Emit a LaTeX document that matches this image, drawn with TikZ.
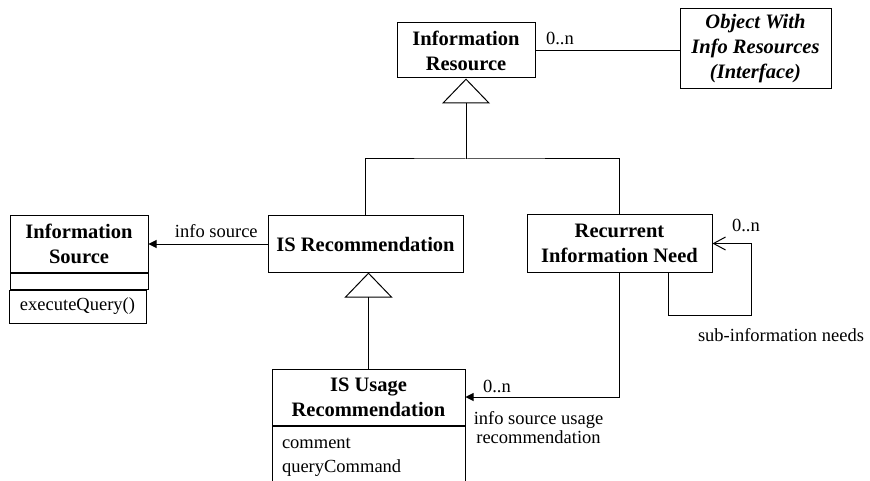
\documentclass[tikz,border=0pt]{standalone}
\usepackage{fontspec}
\setmainfont{Liberation Serif}
\usetikzlibrary{arrows.meta}

\begin{document}
\begin{tikzpicture}[x=1pt,y=-1pt,line width=1pt,
  cls/.style={draw,fill=white,inner sep=0pt,align=center,font=\fontsize{20.5}{25}\selectfont\bfseries},
  part/.style={draw,inner sep=0pt,align=center,font=\fontsize{18.5}{24}\selectfont},
  lbl/.style={inner sep=0pt,align=center,font=\fontsize{18.5}{19}\selectfont},
  gen/.style={-{Triangle[open,length=25pt,width=48pt]}},
  nav/.style={-{Triangle[length=8pt,width=8pt]}}]
  \useasboundingbox (0,0) rectangle (870,481);
  \clip (0,0) rectangle (870,481);
  % classes
  \node[cls,minimum width=138pt,minimum height=55pt] (infores) at (466,50.5) {Information\\Resource};
  \node[cls,font=\fontsize{20.5}{25}\selectfont\bfseries\itshape,minimum width=151pt,minimum height=80pt] (objwith) at (755.5,49) {Object With\\Info Resources\\(Interface)};
  \node[cls,minimum width=138pt,minimum height=56pt] (infosrc) at (79,244) {Information\\Source};
  \node[part,minimum width=138pt,minimum height=16pt,anchor=north] (srcattr) at (infosrc.south) {};
  \node[part,minimum width=137pt,minimum height=33pt,anchor=north] (srcops) at ([xshift=-1.5pt]srcattr.south) {executeQuery()};
  \node[cls,minimum width=195pt,minimum height=56pt] (isrec) at (365.5,244) {IS Recommendation};
  \node[cls,minimum width=185pt,minimum height=57pt] (rin) at (619.5,243.5) {Recurrent\\Information Need};
  \node[cls,minimum width=193pt,minimum height=56pt] (isusage) at (368.5,397) {IS Usage\\Recommendation};
  \node[part,minimum width=193pt,minimum height=80pt,anchor=north] (usageattr) at (isusage.south) {};
  \node[lbl,anchor=base west] (attcomment) at ([xshift=10pt,yshift=-23pt]isusage.south west) {comment};
  \node[lbl,anchor=base west] (attquery) at ([xshift=10pt,yshift=-47pt]isusage.south west) {queryCommand};
  % generalisations
  \coordinate (bar) at (466,159);
  \draw (isrec.north) |- (bar) -| (rin.north);
  \draw[gen] (bar) -- (infores.south);
  \draw[gen] (isusage.north) -- (isusage.north |- isrec.south);
  % associations
  \draw (infores.east) -- (objwith.west |- infores.east);
  \node[lbl,anchor=base west] (resmult) at ([xshift=10pt,yshift=6pt]infores.east) {0..n};
  \draw[nav] (isrec.west) -- (infosrc.east) node[lbl,above=6pt,pos=0.43] (srclbl) {info source};
  \draw[nav] (rin.south) |- (isusage.east);
  \node[lbl,anchor=base west] (usagemult) at ([xshift=17pt,yshift=5pt]isusage.east) {0..n};
  \node[lbl,anchor=north] (usagelbl) at ([xshift=73pt,yshift=-13.5pt]isusage.east) {info source usage\\recommendation};
  \coordinate (loop) at ([xshift=48.5pt,yshift=-43pt]rin.south);
  \draw[-{Straight Barb[length=12pt,width=13pt]}] ([xshift=48.5pt]rin.south) -- (loop) -| ([xshift=39pt]rin.east) -- (rin.east);
  \node[lbl,anchor=base west] (loopmult) at ([xshift=19pt,yshift=11.5pt]rin.east) {0..n};
  \node[lbl,anchor=base] (looplbl) at ([xshift=113pt,yshift=-26pt]loop) {sub-information needs};
\end{tikzpicture}
\end{document}
